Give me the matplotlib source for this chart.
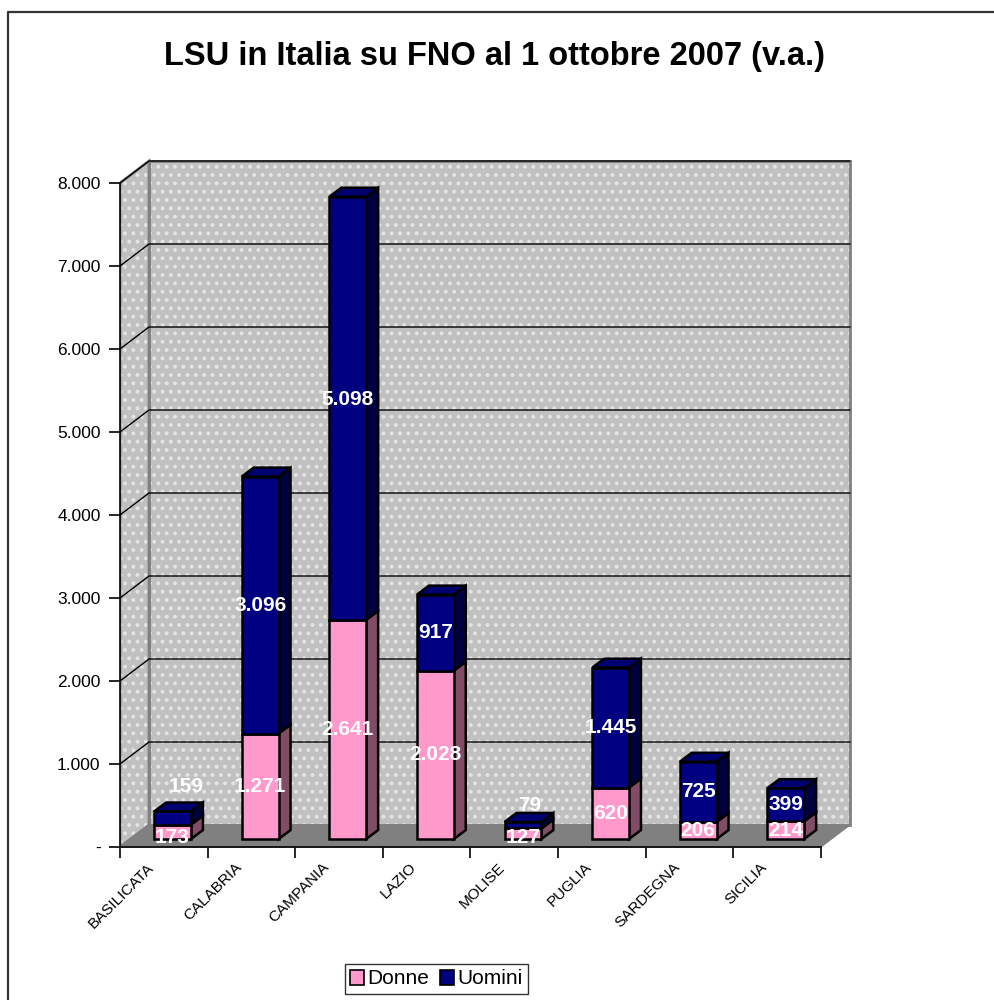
import numpy as np
import matplotlib.pyplot as plt
from matplotlib.patches import Polygon, Patch
from matplotlib.lines import Line2D
from matplotlib.transforms import ScaledTranslation

plt.rcParams['font.family'] = ['Liberation Sans', 'DejaVu Sans']

regioni = ["BASILICATA", "CALABRIA", "CAMPANIA", "LAZIO", "MOLISE", "PUGLIA", "SARDEGNA", "SICILIA"]
donne = [173, 1271, 2641, 2028, 127, 620, 206, 214]
uomini = [159, 3096, 5098, 917, 79, 1445, 725, 399]
yticks = [0, 1000, 2000, 3000, 4000, 5000, 6000, 7000, 8000]
ytick_labels = ["-", "1.000", "2.000", "3.000", "4.000", "5.000", "6.000", "7.000", "8.000"]

# label nudges (value units / category units) where Excel moved labels
nudge_donne = {0: -70, 4: -40}
nudge_uomini = {0: 375, 2: 108, 4: 240}
nudge_uomini_x = {0: 0.16, 4: 0.08}

def fmt(v):
    return f"{v:,}".replace(",", ".")

# 3D geometry in data units
wall_dx, wall_dy = 0.331, 265      # depth of floor / side wall
bar_dx, bar_dy = 0.10, 96          # bar front placed inside the floor
depth_dx, depth_dy = 0.137, 108    # bar depth
w = 0.42
ymax = 8000
n = len(regioni)

pink, pink_side = "#FF99CC", "#804C66"
navy, navy_side, navy_top = "#000080", "#000040", "#000070"
wall = "#C0C0C0"

fig = plt.figure(figsize=(9.94, 10), dpi=100)
ax = fig.add_axes([120 / 994, 1 - 863.6 / 1000, 744.6 / 994, 713.8 / 1000])
ax.set_xlim(0, 8.5)
ax.set_ylim(-200, 8400)

plt.rcParams['hatch.linewidth'] = 1.6
# side wall, back wall, floor
side = [(0, 0), (wall_dx, wall_dy), (wall_dx, ymax + wall_dy), (0, ymax)]
back = [(wall_dx, wall_dy), (n + wall_dx, wall_dy), (n + wall_dx, ymax + wall_dy), (wall_dx, ymax + wall_dy)]
floor = [(0, 0), (n, 0), (n + wall_dx, wall_dy), (wall_dx, wall_dy)]
for pts in (side, back):
    ax.add_patch(Polygon(pts, closed=True, facecolor=wall, edgecolor="#E4E4E4", hatch="..", lw=0, zorder=1))
    ax.add_patch(Polygon(pts, closed=True, facecolor="none", edgecolor="#808080", lw=2, zorder=2))
ax.add_patch(Polygon(floor, closed=True, facecolor="#808080", edgecolor="#808080", lw=1, zorder=2))

# gridlines on walls
for v in yticks[1:]:
    ax.plot([0, wall_dx, n + wall_dx], [v, v + wall_dy, v + wall_dy], color="black", lw=1, zorder=3)

# bars
for i in range(n):
    x0 = i + 0.5 - w / 2 + bar_dx
    segs = [(bar_dy, bar_dy + donne[i], pink, pink_side),
            (bar_dy + donne[i], bar_dy + donne[i] + uomini[i], navy, navy_side)]
    for yb, yt, fc, sc in segs:
        ax.bar(x0, yt - yb, bottom=yb, width=w, align="edge", color=fc, edgecolor="black", lw=1.8, zorder=5)
        ax.add_patch(Polygon([(x0 + w, yb), (x0 + w + depth_dx, yb + depth_dy),
                              (x0 + w + depth_dx, yt + depth_dy), (x0 + w, yt)],
                             closed=True, facecolor=sc, edgecolor="black", lw=1.8, zorder=4))
    ytop = segs[-1][1]
    ax.add_patch(Polygon([(x0, ytop), (x0 + depth_dx, ytop + depth_dy),
                          (x0 + w + depth_dx, ytop + depth_dy), (x0 + w, ytop)],
                         closed=True, facecolor=navy_top, edgecolor="black", lw=1.8, zorder=4))
    xc = x0 + w / 2
    ax.text(xc, bar_dy + donne[i] / 2 + nudge_donne.get(i, 0), fmt(donne[i]), color="white",
            fontsize=15, fontweight="bold", ha="center", va="center", zorder=6)
    ax.text(xc + nudge_uomini_x.get(i, 0), bar_dy + donne[i] + uomini[i] / 2 + nudge_uomini.get(i, 0),
            fmt(uomini[i]), color="white", fontsize=15,
            fontweight="bold", ha="center", va="center", zorder=6)

# axes
for s in ("top", "right"):
    ax.spines[s].set_visible(False)
ax.spines["left"].set_bounds(0, ymax)
ax.spines["bottom"].set_position(("data", 0))
ax.spines["bottom"].set_bounds(0, n)
for s in ("left", "bottom"):
    ax.spines[s].set_linewidth(1.2)
    ax.spines[s].set_zorder(3)
ax.patch.set_visible(False)

ax.set_yticks(yticks)
ax.set_yticklabels(ytick_labels, fontsize=12.5)
ax.tick_params(axis="y", length=8, width=1.2, pad=6)
ax.set_xticks(np.arange(n + 1))
ax.set_xticklabels([])
ax.tick_params(axis="x", which="major", length=8, width=1.2)
ax.set_xticks(np.arange(n) + 0.5, minor=True)
ax.set_xticklabels(regioni, minor=True, rotation=45, ha="right", va="center",
                   rotation_mode="anchor", fontsize=11)
ax.tick_params(axis="x", which="minor", length=0, pad=13)
shift = ScaledTranslation(-12 / 100, 0, fig.dpi_scale_trans)
for lab in ax.get_xticklabels(minor=True):
    lab.set_transform(lab.get_transform() + shift)

fig.text(0.497, 0.943, "LSU in Italia su FNO al 1 ottobre 2007 (v.a.)", ha="center", va="center",
         fontsize=23.5, fontweight="bold")

handles = [Patch(facecolor=pink, edgecolor="black", lw=1.2), Patch(facecolor=navy, edgecolor="black", lw=1.2)]
leg = fig.legend(handles, ["Donne", "Uomini"], loc="center", bbox_to_anchor=(0.439, 0.021),
                 ncol=2, fontsize=15, frameon=True, fancybox=False, handlelength=0.7, handleheight=0.7,
                 handletextpad=0.15, columnspacing=0.5, borderpad=0.25, borderaxespad=0)
leg.get_frame().set_edgecolor("black")
leg.get_frame().set_linewidth(1)

# chart border (top and left visible)
fig.add_artist(Line2D([8 / 994, 8 / 994, 1], [0, 1 - 12 / 1000, 1 - 12 / 1000],
                      transform=fig.transFigure, color="#333333", lw=1.6))

fig.savefig("out.png", dpi=100)
